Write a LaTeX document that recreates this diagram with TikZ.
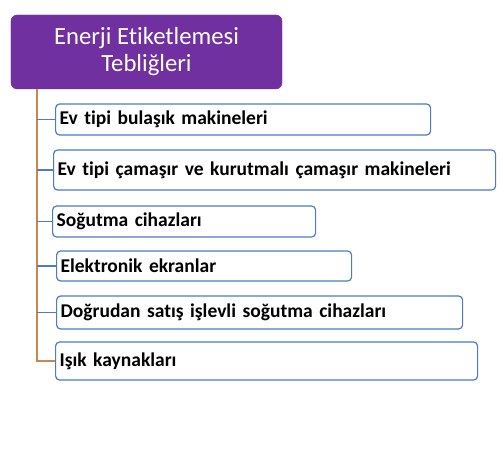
\documentclass[tikz,border=0pt]{standalone}
\usepackage{fontspec}
\setmainfont{Carlito}[Ligatures=NoCommon]
\usepackage{tikz}
\definecolor{tebpurple}{RGB}{112,48,160}
\definecolor{tebblue}{RGB}{78,122,200}
\definecolor{tebbrown}{RGB}{200,135,78}
\tikzset{
  titlebox/.style={fill=tebpurple, draw=tebpurple, rounded corners=6bp,
    text=white, align=center, inner sep=0pt,
    font=\fontsize{24.7bp}{27bp}\selectfont},
  itembox/.style={draw=tebblue, fill=white, line width=1.2bp,
    rounded corners=4bp, anchor=west, inner xsep=4bp, inner ysep=0pt,
    align=left, font=\fontsize{19.5bp}{22bp}\selectfont\bfseries},
  trunk/.style={draw=tebbrown, line width=1.2bp},
  branch/.style={draw=tebblue, line width=1.2bp}
}
\begin{document}
\begin{tikzpicture}[x=1bp,y=-1bp]
\useasboundingbox (0,0) rectangle (500,456);
\node[titlebox, minimum width=271bp, minimum height=74bp] (title) at (146.5,52)
  {Enerji Etiketlemesi\\Tebliğleri};
\coordinate (top) at (37,89);
% boxes
\node[itembox, text width=367bp, minimum height=31bp] (b1) at (55,119.5) {Ev tipi bulaşık makineleri};
\node[itembox, text width=434bp, minimum height=40bp] (b2) at (53,170) {Ev tipi çamaşır ve kurutmalı çamaşır makineleri};
\node[itembox, text width=255bp, minimum height=31bp] (b3) at (52,221.5) {Soğutma cihazları};
\node[itembox, text width=287bp, minimum height=30bp] (b4) at (56,266) {Elektronik ekranlar};
\node[itembox, text width=398bp, minimum height=33bp] (b5) at (56,312.5) {Doğrudan satış işlevli soğutma cihazları};
\node[itembox, text width=414bp, minimum height=38bp] (b6) at (55,361) {Işık kaynakları};
% connectors
\draw[trunk] (top) |- (b6.west);
\foreach \b in {b1,b2,b3,b4,b5}
  \draw[branch] (top |- \b.west) -- (\b.west);
\end{tikzpicture}
\end{document}
